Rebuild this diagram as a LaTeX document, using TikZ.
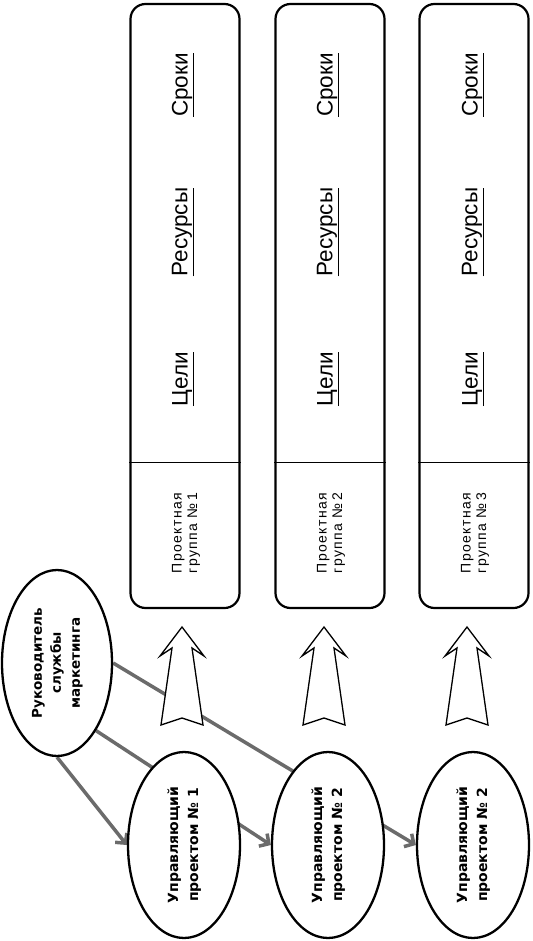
\documentclass[tikz,border=0pt]{standalone}
\usepackage{fontspec}
\setmainfont{Liberation Sans}
\newfontfamily\dvfont{DejaVu Sans}
\newfontfamily\grpfont[LetterSpace=10]{Liberation Sans}
\usetikzlibrary{arrows.meta,backgrounds,shapes.geometric}
\newcommand\rtxt[1]{\rotatebox{90}{\begin{tabular}{@{}c@{}}#1\end{tabular}}}
\begin{document}
\begin{tikzpicture}[x=1pt,y=-1pt,
  ell/.style={draw,line width=2.3pt,fill=white,ellipse,minimum width=112pt,minimum height=186pt,inner sep=0pt,
    font=\dvfont\bfseries\fontsize{14}{20}\selectfont},
  topell/.style={ell,minimum width=110pt,font=\dvfont\bfseries\fontsize{13.5}{19}\selectfont},
  grpbox/.style={draw,line width=2.2pt,rounded corners=15pt,minimum width=109pt,minimum height=604pt,inner sep=0pt},
  divider/.style={line width=0.9pt},
  lbl/.style={rotate=90,font=\fontsize{22.5}{26}\selectfont,inner sep=0pt},
  grp/.style={rotate=90,align=center,font=\grpfont\fontsize{14}{15.5}\selectfont,inner sep=0pt},
  conn/.style={draw=black!58,line width=3.5pt,-{Straight Barb[length=7pt,width=15pt]}},
  bigarrow/.pic={\draw[line width=1.3pt,fill=white,line join=miter]
     (0,0) -- (22,29) -- (10,21) -- (21,98) -- (0,91) -- (-21,98) -- (-10,21) -- (-22,29) -- cycle;}
]
\useasboundingbox (0,0) rectangle (532,941);

% group boxes
\node[grpbox] (b1) at (185,306) {};
\node[grpbox] (b2) at (330,306) {};
\node[grpbox] (b3) at (474,306) {};
\coordinate (dv) at (0,462);
\draw[divider] (b1.west |- dv) -- (b1.east |- dv);
\draw[divider] (b2.west |- dv) -- (b2.east |- dv);
\draw[divider] (b3.west |- dv) -- (b3.east |- dv);

% labels inside boxes
\node[lbl] (c1) at (183,379) {\underline{Цели}};
\node[lbl] (r1) at (183,232) {\underline{Ресурсы}};
\node[lbl] (s1) at (183,85) {\underline{Сроки}};
\node[lbl] (c2) at (328,379) {\underline{Цели}};
\node[lbl] (r2) at (328,232) {\underline{Ресурсы}};
\node[lbl] (s2) at (328,85) {\underline{Сроки}};
\node[lbl] (c3) at (473,379) {\underline{Цели}};
\node[lbl] (r3) at (473,232) {\underline{Ресурсы}};
\node[lbl] (s3) at (473,85) {\underline{Сроки}};

\node[grp] (g1) at (186,533) {Проектная\\группа №\,1};
\node[grp] (g2) at (331,533) {Проектная\\группа №\,2};
\node[grp] (g3) at (475,533) {Проектная\\группа №\,3};

% hollow arrows
\coordinate (a1) at (182,627);
\coordinate (a2) at (324,627);
\coordinate (a3) at (467,627);

% ellipses
\node[topell] (top) at (57,663) {\rtxt{Руководитель\\службы\\маркетинга}};
\node[ell] (e1) at (184,845) {\rtxt{Управляющий\\проектом №~1}};
\node[ell] (e2) at (328,845) {\rtxt{Управляющий\\проектом №~2}};
\node[ell] (e3) at (473,845) {\rtxt{Управляющий\\проектом №~2}};

\pic at (a1) {bigarrow};
\pic at (a2) {bigarrow};
\pic at (a3) {bigarrow};

\begin{scope}[on background layer]
\draw[conn] (top.south) -- (e1.west);
\draw[conn] (top.-60) -- (e2.west);
\draw[conn] (top.east) -- (e3.west);
\end{scope}
\end{tikzpicture}
\end{document}
